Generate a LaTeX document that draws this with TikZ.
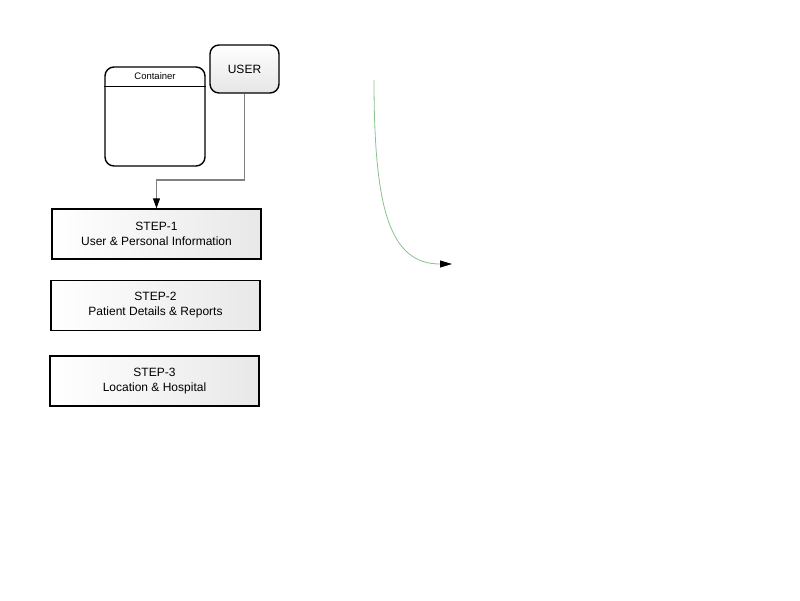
\documentclass[tikz,border=0pt]{standalone}
\usepackage{fontspec}
\setmainfont{Liberation Sans}
\usetikzlibrary{positioning,arrows.meta}

\begin{document}
\begin{tikzpicture}[
    x=1pt, y=-1pt,
    node distance=20pt,
    stepblock/.style={rectangle, draw, line width=1.4pt, left color=white, right color=black!9, minimum width=209pt, minimum height=50pt, inner sep=0pt, align=center, font=\fontsize{12}{15}\selectfont},
    userbox/.style={rectangle, draw, line width=1.4pt, rounded corners=9pt, top color=white, bottom color=black!10, minimum width=69pt, minimum height=48pt, inner sep=0pt, font=\fontsize{12}{15}\selectfont},
    container/.style={rectangle, draw, line width=1.4pt, rounded corners=9pt, fill=white, minimum width=100pt, minimum height=99pt, inner sep=0pt},
    arrow/.style={-{Triangle[length=10pt, width=7pt, color=black]}, draw=black!50, line width=1.1pt},
    flow/.style={-{Triangle[length=12pt, width=7pt, color=black]}, draw=green!45!black!45!white, line width=0.8pt}
]
\useasboundingbox (0,0) rectangle (800,600);

% Boxes
\node[userbox] (user) at (244.5,69) {USER};
\node[container] (container) at (155,116.5) {};
\node[font=\fontsize{9.5}{11}\selectfont, below=3pt of container.north] (containertitle) {Container};
\draw[line width=1.2pt] ([yshift=-20pt]container.north west) -- ([yshift=-20pt]container.north east);

\node[stepblock] (step1) at (156.5,234) {STEP-1\\User \& Personal Information};
\node[stepblock, below=20pt of step1, xshift=-1pt] (step2) {STEP-2\\Patient Details \& Reports};
\node[stepblock, below=24pt of step2, xshift=-1pt] (step3) {STEP-3\\Location \& Hospital};

% Connectors
\coordinate (elbow) at (156.5,180);
\draw[arrow] (user.south) |- (elbow) -- (step1.north);

\coordinate (flowstart) at (374,80);
\coordinate (flowend) at (452,264);
\draw[flow] (flowstart) .. controls (374,210) and (390,264) .. (flowend);

\end{tikzpicture}
\end{document}
